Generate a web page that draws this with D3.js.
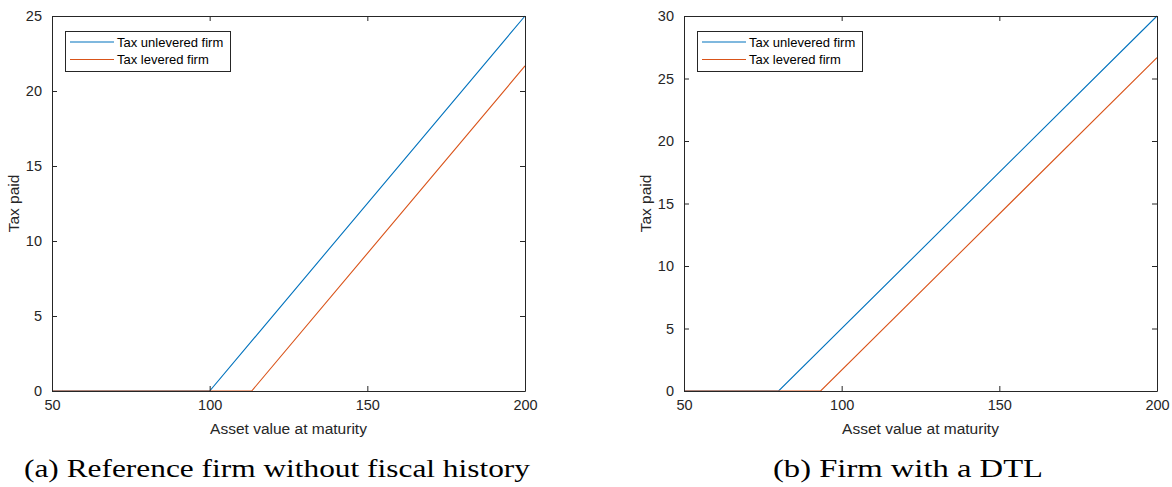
<!DOCTYPE html>
<html>
<head>
<meta charset="utf-8">
<script src="https://cdn.jsdelivr.net/npm/d3@7"></script>
<style>
  html, body { margin: 0; padding: 0; background: #fff; }
  svg { display: block; }
</style>
</head>
<body>
<svg id="chart" width="1172" height="487"></svg>
<script>
// ---- Data ----
const xDomain = [50, 200];
const xTicks = [50, 100, 150, 200];

// Panel (a): reference firm without fiscal history
const aUnleveredX = [50, 100, 200];
const aUnleveredY = [0, 0, 25];
const aLeveredX = [50, 113.33, 200];
const aLeveredY = [0, 0, 21.67];
const aYTicks = [0, 5, 10, 15, 20, 25];
const aYMax = 25;

// Panel (b): firm with a DTL
const bUnleveredX = [50, 80, 200];
const bUnleveredY = [0, 0, 30];
const bLeveredX = [50, 93.33, 200];
const bLeveredY = [0, 0, 26.67];
const bYTicks = [0, 5, 10, 15, 20, 25, 30];
const bYMax = 30;

const seriesNames = ["Tax unlevered firm", "Tax levered firm"];
const seriesColors = ["#0072BD", "#D95319"];
const xLabel = "Asset value at maturity";
const yLabel = "Tax paid";
const captions = ["(a) Reference firm without fiscal history", "(b) Firm with a DTL"];

// ---- Drawing ----
const svg = d3.select("#chart");
const axisColor = "#262626";
const sans = "Helvetica, Arial, 'Liberation Sans', sans-serif";

function panel(opts) {
  const { left, right, top, bottom, series, yTicks, yMax, caption, capX, capW } = opts;
  const x = d3.scaleLinear().domain(xDomain).range([left, right]);
  const y = d3.scaleLinear().domain([0, yMax]).range([bottom, top]);
  const g = svg.append("g");

  // lines
  const line = d3.line().x(d => x(d[0])).y(d => y(d[1]));
  series.forEach((s, i) => {
    const pts = s.x.map((v, k) => [v, s.y[k]]);
    g.append("path").datum(pts)
      .attr("d", line)
      .attr("fill", "none")
      .attr("stroke", seriesColors[i])
      .attr("stroke-width", 1.1);
  });

  // axes (MATLAB style, ticks inward, box on)
  const xAxisB = d3.axisBottom(x).tickValues(xTicks).tickSizeInner(-5).tickSizeOuter(0).tickPadding(9);
  const xAxisT = d3.axisTop(x).tickValues(xTicks).tickSizeInner(-5).tickSizeOuter(0).tickFormat("");
  const yAxisL = d3.axisLeft(y).tickValues(yTicks).tickSizeInner(-5).tickSizeOuter(0).tickPadding(10);
  const yAxisR = d3.axisRight(y).tickValues(yTicks).tickSizeInner(-5).tickSizeOuter(0).tickFormat("");

  const gb = g.append("g").attr("transform", `translate(0,${bottom})`).call(xAxisB);
  const gt = g.append("g").attr("transform", `translate(0,${top})`).call(xAxisT);
  const gl = g.append("g").attr("transform", `translate(${left},0)`).call(yAxisL);
  const gr = g.append("g").attr("transform", `translate(${right},0)`).call(yAxisR);
  [gb, gt, gl, gr].forEach(a => {
    a.selectAll("path.domain").attr("stroke", axisColor).attr("stroke-width", 1);
    a.selectAll(".tick line").attr("stroke", axisColor).attr("stroke-width", 1);
    a.selectAll(".tick text").attr("fill", "#262626").style("font-family", sans).style("font-size", "14.5px");
  });

  // axis labels
  g.append("text")
    .attr("x", (left + right) / 2).attr("y", bottom + 43)
    .attr("text-anchor", "middle")
    .style("font-family", sans).style("font-size", "15.5px").attr("fill", "#262626")
    .text(xLabel);
  g.append("text")
    .attr("transform", `translate(${left - 33},${(top + bottom) / 2}) rotate(-90)`)
    .attr("text-anchor", "middle")
    .style("font-family", sans).style("font-size", "15.5px").attr("fill", "#262626")
    .text(yLabel);

  // legend
  const lx = left + 13, ly = top + 15;
  const lg = g.append("g");
  lg.append("rect").attr("x", lx + 0.5).attr("y", ly + 0.5).attr("width", 165).attr("height", 40)
    .attr("fill", "#fff").attr("stroke", axisColor).attr("stroke-width", 1);
  seriesNames.forEach((n, i) => {
    const cy = ly + 11 + i * 17.5;
    lg.append("line").attr("x1", lx + 5).attr("x2", lx + 49).attr("y1", cy).attr("y2", cy)
      .attr("stroke", seriesColors[i]).attr("stroke-width", 1.1);
    lg.append("text").attr("x", lx + 52).attr("y", cy + 4.5)
      .style("font-family", sans).style("font-size", "13px").attr("fill", "#000")
      .text(n);
  });

  // caption
  svg.append("text")
    .attr("x", capX).attr("y", 477)
    .attr("textLength", capW).attr("lengthAdjust", "spacingAndGlyphs")
    .style("font-family", "'Liberation Serif', 'DejaVu Serif', serif").style("font-size", "26px").attr("fill", "#000")
    .text(caption);
}

panel({
  left: 52, right: 525, top: 16, bottom: 391,
  series: [{ x: aUnleveredX, y: aUnleveredY }, { x: aLeveredX, y: aLeveredY }],
  yTicks: aYTicks, yMax: aYMax, caption: captions[0], capX: 24, capW: 506
});
panel({
  left: 684, right: 1157, top: 16, bottom: 391,
  series: [{ x: bUnleveredX, y: bUnleveredY }, { x: bLeveredX, y: bLeveredY }],
  yTicks: bYTicks, yMax: bYMax, caption: captions[1], capX: 773, capW: 270
});
</script>
</body>
</html>
